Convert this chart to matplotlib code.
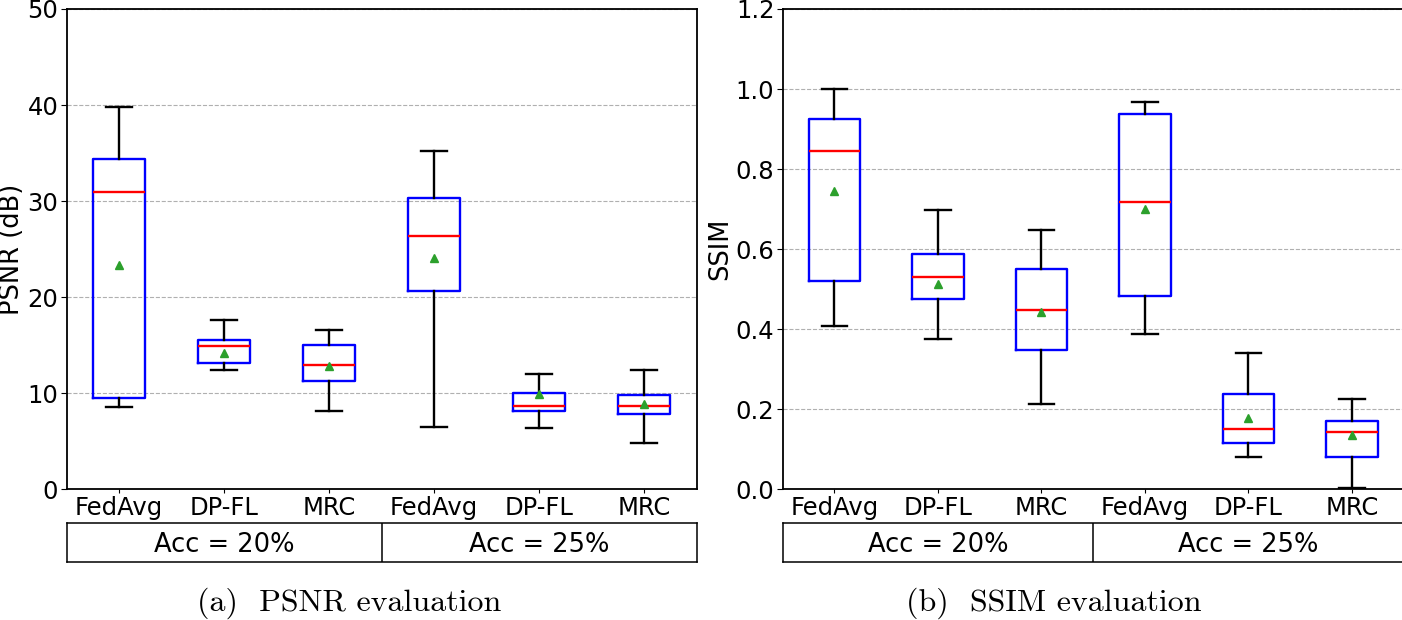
import matplotlib
matplotlib.use("Agg")
import matplotlib.pyplot as plt

# ---------------- data ----------------
methods = ["FedAvg", "DP-FL", "MRC", "FedAvg", "DP-FL", "MRC"]
groups = ["Acc = 20%", "Acc = 25%"]

psnr_whislo = [8.6, 12.4, 8.1, 6.45, 6.35, 4.8]
psnr_q1     = [9.55, 13.2, 11.25, 20.6, 8.2, 7.8]
psnr_med    = [31.0, 14.9, 12.9, 26.35, 8.7, 8.7]
psnr_q3     = [34.4, 15.55, 15.0, 30.3, 10.0, 9.8]
psnr_whishi = [39.8, 17.6, 16.6, 35.2, 12.0, 12.4]
psnr_mean   = [23.3, 14.2, 12.85, 24.1, 9.95, 8.9]

ssim_whislo = [0.407, 0.375, 0.213, 0.3875, 0.08, 0.002]
ssim_q1     = [0.52, 0.475, 0.3475, 0.4825, 0.116, 0.08]
ssim_med    = [0.845, 0.53, 0.4475, 0.717, 0.15, 0.143]
ssim_q3     = [0.924, 0.5875, 0.55, 0.9375, 0.2375, 0.17]
ssim_whishi = [1.0, 0.697, 0.649, 0.967, 0.34, 0.225]
ssim_mean   = [0.746, 0.5125, 0.443, 0.70, 0.177, 0.135]

psnr_ticks = [0, 10, 20, 30, 40, 50]
ssim_ticks = [0.0, 0.2, 0.4, 0.6, 0.8, 1.0, 1.2]

captions = ["(a)  PSNR evaluation", "(b)  SSIM evaluation"]

# ---------------- figure ----------------
W, H = 1402, 620
fig = plt.figure(figsize=(W / 100, H / 100), dpi=100)

FS_TICK = 17.5
FS_LABEL = 18.5
FS_TABLE = 18.5
FS_CAP = 23


def stats(lo, q1, med, q3, hi, mean):
    out = []
    for i in range(len(lo)):
        out.append(dict(whislo=lo[i], q1=q1[i], med=med[i], q3=q3[i],
                        whishi=hi[i], mean=mean[i], fliers=[]))
    return out


def px_axes(x0, x1, ytop, ybot):
    return [x0 / W, 1 - ybot / H, (x1 - x0) / W, (ybot - ytop) / H]


def draw_panel(x0, x1, st, ylim, yticks, ylabel, ytickfmt, caption, cap_x):
    ax = fig.add_axes(px_axes(x0, x1, 9, 489.3))
    ax.bxp(st, positions=range(1, 7), widths=0.5, showmeans=True,
           showfliers=False,
           boxprops=dict(color="blue", linewidth=1.7),
           medianprops=dict(color="red", linewidth=1.7),
           whiskerprops=dict(color="black", linewidth=1.7),
           capprops=dict(color="black", linewidth=1.7),
           meanprops=dict(marker="^", markerfacecolor="#2ca02c",
                          markeredgecolor="#2ca02c", markersize=6))
    ax.set_xlim(0.5, 6.5)
    ax.set_ylim(*ylim)
    ax.set_yticks(yticks)
    ax.set_yticklabels([ytickfmt(v) for v in yticks], fontsize=FS_TICK)
    ax.set_xticks(range(1, 7))
    ax.set_xticklabels(methods, fontsize=FS_TICK)
    ax.tick_params(axis="x", length=3, pad=1.5)
    ax.tick_params(axis="y", length=4, pad=2)
    ax.yaxis.grid(True, linestyle="--", color="#b0b0b0", linewidth=0.8)
    ax.set_axisbelow(True)
    ax.set_ylabel(ylabel, fontsize=FS_LABEL, labelpad=1.5)
    for s in ax.spines.values():
        s.set_linewidth(1.3)

    axt = fig.add_axes(px_axes(x0, x1, 523.3, 562.3))
    axt.set_xlim(0, 1)
    axt.set_ylim(0, 1)
    axt.set_xticks([])
    axt.set_yticks([])
    for s in axt.spines.values():
        s.set_linewidth(1.1)
    axt.axvline(0.5, color="black", linewidth=1.1)
    axt.text(0.25, 0.45, groups[0], ha="center", va="center", fontsize=FS_TABLE)
    axt.text(0.75, 0.45, groups[1], ha="center", va="center", fontsize=FS_TABLE)

    fig.text(cap_x / W, 1 - 603 / H, caption, ha="center", va="center",
             fontsize=FS_CAP, family="cmr10")
    return ax


draw_panel(66.7, 696.7,
           stats(psnr_whislo, psnr_q1, psnr_med, psnr_q3, psnr_whishi, psnr_mean),
           (0, 50), psnr_ticks, "PSNR (dB)", lambda v: f"{v:d}",
           captions[0], 349)
draw_panel(782.7, 1403.7,
           stats(ssim_whislo, ssim_q1, ssim_med, ssim_q3, ssim_whishi, ssim_mean),
           (0, 1.2), ssim_ticks, "SSIM", lambda v: f"{v:.1f}",
           captions[1], 1054)

fig.savefig("out.png", dpi=100)
